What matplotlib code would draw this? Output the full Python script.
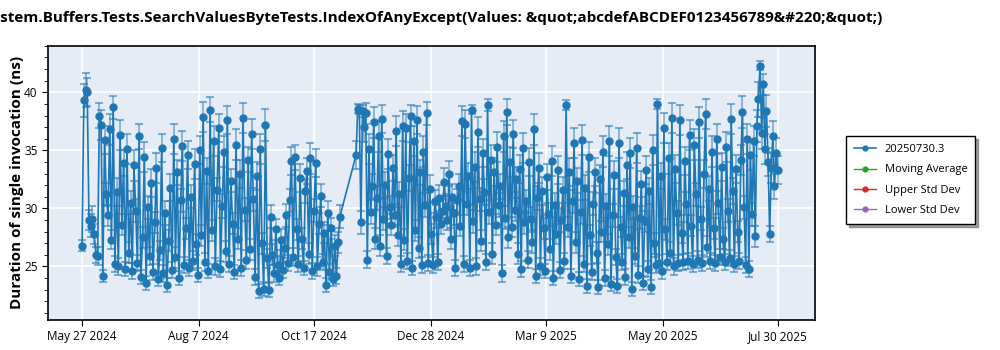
import matplotlib
matplotlib.use("Agg")
import matplotlib.pyplot as plt
import matplotlib.dates as mdates
from matplotlib.ticker import MultipleLocator
import numpy as np
import pandas as pd

plt.rcParams['font.family'] = ['Open Sans', 'DejaVu Sans']

title = ("System.Buffers.Tests.SearchValuesByteTests.IndexOfAnyExcept"
         "(Values: &quot;abcdefABCDEF0123456789&#220;&quot;)")
series_name = "20250730.3"

# first run of results: May 27 2024 -> Nov 2 2024
seg1_start, seg1_end = "2024-05-27", "2024-11-02"
seg1_vals = [
    26.8, 39.3, 40.2, 40.0, 29.0, 28.5, 29.1, 27.8, 26.0, 25.9,
    38.0, 37.2, 24.2, 35.9, 31.2, 29.4, 36.8, 27.3, 38.7, 25.2,
    31.4, 25.0, 36.3, 28.6, 33.9, 24.8, 35.1, 26.2, 30.5, 24.6,
    33.7, 29.8, 25.3, 36.2, 24.1, 27.5, 34.4, 23.6, 30.1, 25.9,
    32.2, 24.5, 28.8, 33.5, 23.9, 26.4, 35.2, 24.4, 29.6, 23.4,
    27.2, 31.8, 24.7, 36.0, 25.8, 33.1, 24.0, 30.7, 35.4, 25.1,
    28.3, 34.6, 24.9, 31.0, 25.5, 33.8, 26.9, 24.3, 35.0, 27.7,
    37.9, 25.4, 33.2, 24.6, 38.5, 28.1, 35.8, 25.0, 31.6, 36.9,
    24.8, 30.2, 34.9, 26.3, 37.6, 25.2, 32.4, 28.7, 24.5, 35.5,
    27.4, 33.0, 24.9, 37.8, 29.9, 25.6, 34.2, 26.5, 36.4, 30.8,
    24.1, 32.8, 22.9, 35.1, 27.0, 23.1, 37.2, 25.7, 23.0, 29.3,
    26.0, 24.4, 28.2, 25.1, 24.0, 27.3, 24.7, 26.6, 29.4, 25.3,
    30.7, 34.1, 25.8, 34.4, 28.2, 25.2, 32.6, 27.4, 24.9, 31.5,
    33.2, 26.1, 34.3, 24.6, 29.8, 33.9, 25.0, 28.7, 31.1, 25.4,
    27.9, 23.4, 29.6, 24.5, 28.3, 23.9, 26.8, 24.2, 27.1, 29.3,
]
seg1_err = [
    0.5, 1.4, 1.5, 1.2, 0.9, 1.0, 1.1, 0.9, 0.7, 0.8,
    1.1, 1.3, 0.5, 1.2, 1.0, 0.9, 1.3, 0.8, 1.0, 0.7,
    1.2, 0.7, 1.3, 0.9, 1.1, 0.6, 1.3, 0.9, 1.0, 0.7,
    1.3, 1.0, 0.7, 1.1, 0.6, 0.9, 1.3, 0.6, 1.0, 0.8,
    1.2, 0.7, 0.9, 1.3, 0.6, 0.8, 1.2, 0.7, 1.0, 0.6,
    0.9, 1.2, 0.7, 1.3, 0.9, 1.1, 0.6, 1.0, 1.3, 0.7,
    0.9, 1.2, 0.7, 1.0, 0.8, 1.3, 0.9, 0.6, 1.2, 0.9,
    1.3, 0.8, 1.1, 0.6, 1.1, 0.9, 1.3, 0.7, 1.0, 1.2,
    0.7, 1.0, 1.3, 0.9, 1.2, 0.7, 1.0, 0.9, 0.6, 1.3,
    0.9, 1.2, 0.7, 1.3, 1.0, 0.8, 1.1, 0.9, 1.3, 1.0,
    0.7, 1.2, 0.6, 1.3, 0.9, 0.6, 1.4, 0.8, 0.6, 1.0,
    0.9, 0.7, 0.9, 0.8, 0.6, 0.9, 0.7, 0.9, 1.0, 0.7,
    1.0, 1.2, 0.8, 1.1, 0.9, 0.7, 1.2, 0.9, 0.6, 1.0,
    1.1, 0.9, 1.3, 0.7, 1.0, 1.2, 0.8, 0.9, 1.0, 0.7,
    0.9, 0.6, 1.0, 0.7, 0.9, 0.6, 0.9, 0.7, 0.9, 1.0,
]

# second run of results: Nov 12 2024 -> Jul 30 2025
seg2_start, seg2_end = "2024-11-12", "2025-07-30"
seg2_vals = [
    34.6, 38.6, 38.5, 28.8, 38.4, 37.0, 38.2, 25.6, 35.1, 29.7,
    31.9, 37.4, 27.4, 30.9, 36.2, 26.8, 37.7, 29.1, 32.0, 25.9,
    34.7, 30.1, 28.6, 33.5, 29.4, 36.7, 27.7, 31.2, 25.2, 37.1,
    27.3, 36.9, 25.5, 32.6, 38.0, 24.9, 35.8, 28.1, 37.6, 26.6,
    33.1, 25.1, 34.9, 30.3, 38.2, 25.3, 31.7, 27.8, 25.1, 30.6,
    29.3, 25.4, 30.9, 28.7, 29.8, 32.3, 30.2, 29.0, 33.0, 27.4,
    31.0, 29.6, 24.9, 30.7, 31.9, 28.5, 37.5, 25.2, 37.3, 30.4,
    32.8, 24.9, 38.5, 28.9, 33.6, 25.0, 36.6, 30.8, 27.2, 34.8,
    31.4, 25.4, 38.9, 29.7, 34.2, 26.1, 33.1, 28.6, 35.3, 30.3,
    31.9, 24.4, 36.2, 29.2, 38.3, 27.5, 34.0, 28.4, 36.4, 29.9,
    32.5, 26.1, 33.4, 24.8, 35.2, 28.8, 30.6, 25.6, 34.0, 29.1,
    27.1, 36.8, 24.2, 30.9, 33.5, 25.0, 31.5, 28.3, 24.6, 32.7,
    29.5, 26.5, 34.1, 24.0, 30.3, 27.8, 33.3, 24.7, 29.0, 31.6,
    25.5, 38.9, 28.4, 33.1, 24.2, 30.6, 35.6, 27.1, 32.4, 23.9,
    29.7, 35.9, 25.2, 31.8, 23.3, 34.4, 27.7, 24.5, 30.4, 33.1,
    26.2, 23.2, 32.5, 28.0, 34.9, 24.0, 30.2, 26.9, 35.8, 23.5,
    29.4, 32.9, 25.8, 23.3, 35.6, 28.4, 25.4, 31.3, 24.1, 33.7,
    27.5, 34.8, 23.1, 30.1, 25.9, 35.2, 24.3, 29.2, 32.1, 23.6,
    28.9, 33.3, 24.8, 31.5, 23.2, 35.0, 27.0, 25.1, 39.0, 25.3,
    32.8, 24.6, 36.9, 28.2, 25.4, 34.3, 26.2, 37.8, 25.0, 33.4,
    29.6, 25.3, 37.6, 27.9, 25.4, 34.1, 30.4, 25.5, 36.3, 28.5,
    25.2, 35.5, 31.2, 25.6, 37.4, 29.1, 25.3, 33.0, 38.1, 26.7,
    31.7, 25.5, 34.9, 28.3, 25.3, 36.0, 30.5, 25.8, 33.6, 27.4,
    25.4, 35.3, 29.8, 25.7, 37.7, 31.5, 25.2, 33.4, 28.0, 25.5,
    34.2, 38.3, 30.1, 25.1, 36.0, 24.8, 34.6, 29.5, 35.8, 27.6,
    37.1, 39.4, 42.3, 36.5, 40.7, 35.1, 38.4, 34.0, 27.8, 33.5,
    36.2, 31.9, 34.8, 33.3,
]
seg2_err = [
    1.2, 0.4, 0.4, 1.0, 0.5, 1.3, 0.9, 0.7, 1.3, 1.0,
    1.1, 1.3, 0.9, 1.0, 1.3, 0.9, 1.2, 1.0, 1.1, 0.7,
    1.3, 1.0, 0.9, 1.1, 1.0, 1.3, 0.9, 1.1, 0.7, 1.3,
    0.9, 1.2, 0.7, 1.1, 0.9, 0.6, 1.3, 0.9, 1.2, 0.9,
    1.1, 0.7, 1.3, 1.0, 1.0, 0.7, 1.2, 0.9, 0.7, 1.0,
    1.0, 0.7, 1.1, 0.9, 1.0, 1.2, 1.0, 0.9, 1.1, 0.9,
    1.1, 1.0, 0.7, 1.0, 1.1, 0.9, 1.3, 0.7, 1.2, 1.0,
    1.1, 0.7, 0.4, 1.0, 1.3, 0.7, 1.3, 1.0, 0.9, 1.2,
    1.1, 0.7, 0.5, 1.0, 1.3, 0.9, 1.2, 0.9, 1.3, 1.0,
    1.1, 0.7, 1.3, 1.0, 1.1, 0.9, 1.3, 0.9, 1.2, 1.0,
    1.1, 0.9, 1.2, 0.7, 1.3, 1.0, 1.0, 0.7, 1.2, 1.0,
    0.9, 1.3, 0.6, 1.0, 1.3, 0.7, 1.2, 0.9, 0.6, 1.1,
    1.0, 0.9, 1.3, 0.6, 1.0, 0.9, 1.2, 0.7, 1.0, 1.1,
    0.7, 0.4, 0.9, 1.2, 0.6, 1.0, 1.3, 0.9, 1.1, 0.6,
    1.0, 1.3, 0.7, 1.1, 0.6, 1.3, 0.9, 0.7, 1.0, 1.2,
    0.9, 0.6, 1.2, 0.9, 1.3, 0.7, 1.0, 0.9, 1.3, 0.6,
    1.0, 1.2, 0.7, 0.6, 1.3, 0.9, 0.7, 1.1, 0.7, 1.2,
    0.9, 1.3, 0.6, 1.0, 0.7, 1.3, 0.7, 1.0, 1.1, 0.6,
    0.9, 1.2, 0.7, 1.1, 0.6, 1.3, 0.9, 0.7, 0.4, 0.7,
    1.1, 0.7, 1.3, 0.9, 0.7, 1.3, 0.9, 1.3, 0.7, 1.2,
    1.0, 0.7, 1.3, 0.9, 0.7, 1.2, 1.0, 0.7, 1.3, 0.9,
    0.7, 1.3, 1.0, 0.7, 1.3, 1.0, 0.7, 1.2, 1.3, 0.9,
    1.1, 0.7, 1.3, 0.9, 0.7, 1.3, 1.0, 0.7, 1.2, 0.9,
    0.7, 1.3, 1.0, 0.7, 1.3, 1.1, 0.7, 1.2, 0.9, 0.7,
    1.3, 1.4, 1.0, 0.7, 1.3, 0.7, 1.3, 1.0, 1.3, 0.9,
    1.4, 1.5, 0.4, 1.4, 0.9, 1.3, 1.4, 1.2, 0.7, 1.3,
    1.3, 1.1, 1.3, 1.2,
]

tick_dates = ["2024-05-27", "2024-08-07", "2024-10-17", "2024-12-28",
              "2025-03-09", "2025-05-20", "2025-07-30"]
x_range = ("2024-05-06", "2025-08-22")

dates = np.concatenate([
    pd.date_range(seg1_start, seg1_end, periods=len(seg1_vals)).values,
    pd.date_range(seg2_start, seg2_end, periods=len(seg2_vals)).values,
])
vals = np.array(seg1_vals + seg2_vals)
errs = np.array(seg1_err + seg2_err)

blue = "#1f77b4"

fig = plt.figure(figsize=(10, 3.5), dpi=100)
ax = fig.add_axes([0.048, 0.086, 0.767, 0.783])
ax.set_facecolor("#e5ecf6")

ax.errorbar(dates, vals, yerr=errs, fmt="none", ecolor=blue, elinewidth=1.2,
            capsize=3, capthick=1.5, alpha=0.55, zorder=2)
ax.plot(dates, vals, color=blue, lw=1.2, marker="o", ms=5, zorder=3,
        label=series_name)
ax.plot([], [], color="#2ca02c", lw=1, marker="o", ms=5, label="Moving Average")
ax.plot([], [], color="#d62728", lw=1, marker="o", ms=5, label="Upper Std Dev")
ax.plot([], [], color="#9467bd", lw=1, marker="o", ms=5, label="Lower Std Dev")

ax.set_xlim(pd.Timestamp(x_range[0]), pd.Timestamp(x_range[1]))
ax.set_ylim(20.4, 44.0)
ax.set_xticks([pd.Timestamp(d) for d in tick_dates])
ax.xaxis.set_major_formatter(mdates.DateFormatter("%b %-d %Y"))
ax.yaxis.set_major_locator(MultipleLocator(5))
ax.yaxis.set_minor_locator(MultipleLocator(1))
ax.grid(True, which="major", color="white", lw=1.2, zorder=0)
ax.set_axisbelow(True)
ax.tick_params(axis="both", which="major", labelsize=8.5, length=4, color="black")
ax.tick_params(axis="y", which="minor", length=3)
for s in ax.spines.values():
    s.set_color("black")
    s.set_linewidth(1.2)

ax.set_ylabel("Duration of single invocation (ns)", fontsize=11, fontweight="bold")
ax.yaxis.set_label_coords(-0.031, 0.5)

fig.text(0.882, 0.948, title, ha="right", va="center", fontsize=11,
         fontweight="bold")

ax.legend(loc="center left", bbox_to_anchor=(1.033, 0.51), fontsize=8,
          frameon=True, fancybox=False, shadow=True, edgecolor="black",
          borderpad=0.7, labelspacing=0.85, handlelength=2.0, markerscale=0.7)

fig.savefig("out.png", dpi=100)
